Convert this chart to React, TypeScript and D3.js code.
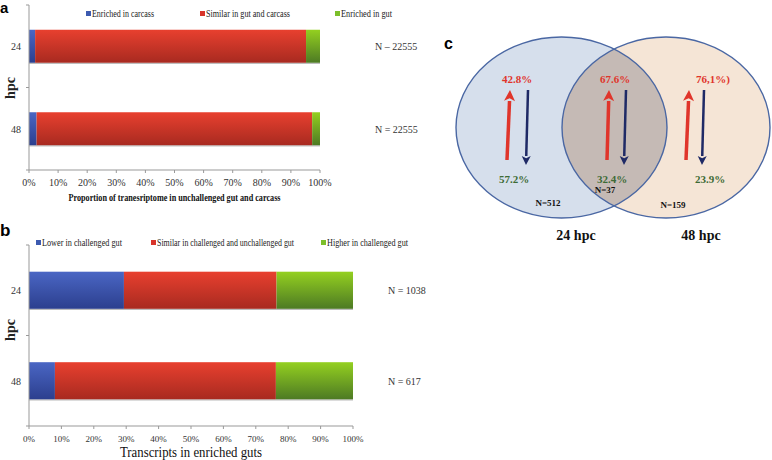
import React from "react";
import * as d3 from "d3";

const hpcCats = ["24", "48"];
const seriesA = ["Enriched in carcass", "Similar in gut and carcass", "Enriched in gut"];
const valuesA = [
  [2.1, 93.1, 4.8],
  [2.6, 94.7, 2.7],
];
const nLabelsA = ["N – 22555", "N  = 22555"];

const seriesB = ["Lower in challenged  gut", "Similar in challenged  and unchallenged gut", "Higher in  challenged gut"];
const valuesB = [
  [29.3, 47.1, 23.6],
  [8.0, 68.2, 23.8],
];
const nLabelsB = ["N = 1038", "N = 617"];

const pctTicks = [0, 10, 20, 30, 40, 50, 60, 70, 80, 90, 100];

const vennUp = ["42.8%", "67.6%", "76,1%)"];
const vennDown = ["57.2%", "32.4%", "23.9%"];
const vennN = ["N=512", "N=37", "N=159"];
const vennSets = ["24 hpc", "48 hpc"];

const grads = ["gBlue", "gRed", "gGreen"];
const legendColors = ["#3c5ab0", "#d8342a", "#7cbf2a"];
const SERIF = "'Liberation Serif', 'Times New Roman', 'DejaVu Serif', serif";
const SANS = "'Liberation Sans', Arial, sans-serif";

function StackPanel(props: any) {
  const { values, series, nLabels, x0, x1, y0, y1, legendY, legendXs, legendW, title, titleStyle, titleY, titleW, nX, hpcY, barFrac, tickFont, legendFont } = props;
  const x = d3.scaleLinear().domain([0, 100]).range([x0, x1]);
  const y = d3.scaleBand().domain(hpcCats).range([y0, y1]);
  const bw = y.bandwidth();
  const bh = bw * barFrac;
  return (
    <g>
      {series.map((s: string, i: number) => (
        <g key={s}>
          <rect x={legendXs[i]} y={legendY - 6} width={5} height={5} fill={legendColors[i]} />
          <text x={legendXs[i] + 6} y={legendY} fontSize={legendFont} textLength={legendW[i]} lengthAdjust="spacingAndGlyphs" style={{ fontFamily: SERIF }} fill="#222">{s}</text>
        </g>
      ))}
      {hpcCats.map((c, ci) => {
        const stack = d3.stack<any>().keys(["0", "1", "2"])([Object.assign({}, values[ci])]);
        const by = (y(c) as number) + (bw - bh) / 2;
        return (
          <g key={c}>
            <rect x={x0} y={by + bh} width={x1 - x0} height={1.2} fill="#bbb" />
            {stack.map((layer, li) => (
              <rect key={li} x={x(layer[0][0])} y={by} width={x(layer[0][1]) - x(layer[0][0])} height={bh} fill={`url(#${grads[li]})`} />
            ))}
            <text x={x0 - 8} y={by + bh / 2 + 4} textAnchor="end" fontSize={10} style={{ fontFamily: SERIF }} fill="#333">{c}</text>
            <text x={nX} y={by + bh / 2 + 4} fontSize={10} style={{ fontFamily: SERIF }} fill="#333">{nLabels[ci]}</text>
          </g>
        );
      })}
      <line x1={x0} x2={x0} y1={y0} y2={y1} stroke="#999" />
      {[...hpcCats.map((c) => y(c) as number), y1].map((t, i) => (
        <line key={i} x1={x0 - 3} x2={x0} y1={t} y2={t} stroke="#999" />
      ))}
      <line x1={x0} x2={x1} y1={y1} y2={y1} stroke="#999" />
      {pctTicks.map((t) => (
        <g key={t}>
          <line x1={x(t)} x2={x(t)} y1={y1} y2={y1 + 3} stroke="#999" />
          <text x={x(t)} y={y1 + 16} textAnchor="middle" fontSize={tickFont} style={{ fontFamily: SERIF }} fill="#333">{t}%</text>
        </g>
      ))}
      <text x={(x0 + x1) / 2 - titleW / 2} y={titleY} textLength={titleW} lengthAdjust="spacingAndGlyphs" style={{ fontFamily: SERIF }} fill="#111" {...titleStyle}>{title}</text>
      <text transform={`translate(15,${hpcY}) rotate(-90)`} textAnchor="middle" fontSize={14} fontWeight="bold" style={{ fontFamily: SERIF }} fill="#222">hpc</text>
    </g>
  );
}

function Arrow(props: any) {
  const { x1, y1, x2, y2, color, w, hw, hl } = props;
  const ang = Math.atan2(y2 - y1, x2 - x1);
  const bx = x2 - hl * Math.cos(ang);
  const by = y2 - hl * Math.sin(ang);
  const px = -Math.sin(ang) * hw / 2;
  const py = Math.cos(ang) * hw / 2;
  return (
    <g>
      <line x1={x1} y1={y1} x2={bx} y2={by} stroke={color} strokeWidth={w} />
      <path d={`M${x2},${y2} L${bx + px},${by + py} L${bx + (x2 - bx) * 0.25},${by + (y2 - by) * 0.25} L${bx - px},${by - py} Z`} fill={color} />
    </g>
  );
}

export default function App() {
  const cL = { cx: 561.5, cy: 127.5, rx: 105.5, ry: 90.5 };
  const cR = { cx: 666, cy: 127.5, rx: 104, ry: 90.5 };
  const regionX = [517, 615, 713];
  const arrowPairs = [
    { r: [507, 160, 510, 90], b: [528, 90, 526, 165] },
    { r: [607, 160, 609, 90], b: [626, 90, 624, 165] },
    { r: [686, 160, 689, 90], b: [704, 90, 702, 165] },
  ];
  return (
    <svg width={772} height={460} style={{ position: "absolute", left: 0, top: 0, background: "#fff" }}>
      <defs>
        <linearGradient id="gBlue" x1="0" y1="0" x2="0" y2="1">
          <stop offset="0" stopColor="#4a66c4" />
          <stop offset="1" stopColor="#2c3f8e" />
        </linearGradient>
        <linearGradient id="gRed" x1="0" y1="0" x2="0" y2="1">
          <stop offset="0" stopColor="#e8402f" />
          <stop offset="1" stopColor="#a82a20" />
        </linearGradient>
        <linearGradient id="gGreen" x1="0" y1="0" x2="0" y2="1">
          <stop offset="0" stopColor="#94d020" />
          <stop offset="1" stopColor="#4d7a24" />
        </linearGradient>
        <clipPath id="clipL">
          <ellipse cx={cL.cx} cy={cL.cy} rx={cL.rx} ry={cL.ry} />
        </clipPath>
      </defs>

      <text x={0} y={13} fontSize={15} fontWeight="bold" style={{ fontFamily: SANS }}>a</text>
      <StackPanel values={valuesA} series={seriesA} nLabels={nLabelsA} x0={29} x1={320} y0={5} y1={170}
        legendY={17} legendXs={[86, 200, 335]} legendW={[62, 84, 51]} title="Proportion of  tranesriptome in unchallenged gut and carcass"
        titleStyle={{ fontSize: 10, fontWeight: "bold" }} titleY={201} titleW={212} nX={375} hpcY={88} barFrac={0.4} tickFont={10} legendFont={10.5} />

      <text x={0} y={236} fontSize={17} fontWeight="bold" style={{ fontFamily: SANS }}>b</text>
      <StackPanel values={valuesB} series={seriesB} nLabels={nLabelsB} x0={29} x1={353} y0={245} y1={426}
        legendY={246} legendXs={[36, 151, 321]} legendW={[80, 137, 81]} title="Transcripts in enriched guts"
        titleStyle={{ fontSize: 15 }} titleY={457} titleW={142} nX={388} hpcY={330} barFrac={0.41} tickFont={9} legendFont={9.5} />

      <text x={444} y={49} fontSize={16} fontWeight="bold" style={{ fontFamily: SANS }}>c</text>
      <ellipse cx={cL.cx} cy={cL.cy} rx={cL.rx} ry={cL.ry} fill="#d6dfec" />
      <ellipse cx={cR.cx} cy={cR.cy} rx={cR.rx} ry={cR.ry} fill="#f5e5d6" />
      <ellipse cx={cR.cx} cy={cR.cy} rx={cR.rx} ry={cR.ry} fill="#c5bab5" clipPath="url(#clipL)" />
      <ellipse cx={cL.cx} cy={cL.cy} rx={cL.rx} ry={cL.ry} fill="none" stroke="#4a67a3" strokeWidth={1.4} />
      <ellipse cx={cR.cx} cy={cR.cy} rx={cR.rx} ry={cR.ry} fill="none" stroke="#4a67a3" strokeWidth={1.4} />
      {arrowPairs.map((a, i) => (
        <g key={i}>
          <Arrow x1={a.r[0]} y1={a.r[1]} x2={a.r[2]} y2={a.r[3]} color="#e0352b" w={3.5} hw={11} hl={11} />
          <Arrow x1={a.b[0]} y1={a.b[1]} x2={a.b[2]} y2={a.b[3]} color="#1f2a66" w={2.5} hw={9} hl={9} />
        </g>
      ))}
      {vennUp.map((t, i) => (
        <text key={t} x={regionX[i]} y={83} textAnchor="middle" fontSize={11} fontWeight="bold" style={{ fontFamily: SERIF }} fill="#e0352b">{t}</text>
      ))}
      {vennDown.map((t, i) => (
        <text key={t} x={regionX[i] - 3} y={183} textAnchor="middle" fontSize={11} fontWeight="bold" style={{ fontFamily: SERIF }} fill="#3d6b35">{t}</text>
      ))}
      <text x={548} y={206} textAnchor="middle" fontSize={9} fontWeight="bold" style={{ fontFamily: SERIF }} fill="#111">{vennN[0]}</text>
      <text x={605} y={193} textAnchor="middle" fontSize={9} fontWeight="bold" style={{ fontFamily: SERIF }} fill="#111">{vennN[1]}</text>
      <text x={673} y={208} textAnchor="middle" fontSize={9} fontWeight="bold" style={{ fontFamily: SERIF }} fill="#111">{vennN[2]}</text>
      <text x={576} y={240} textAnchor="middle" fontSize={14} fontWeight="bold" style={{ fontFamily: SERIF }} fill="#111">{vennSets[0]}</text>
      <text x={701} y={240} textAnchor="middle" fontSize={14} fontWeight="bold" style={{ fontFamily: SERIF }} fill="#111">{vennSets[1]}</text>
    </svg>
  );
}
